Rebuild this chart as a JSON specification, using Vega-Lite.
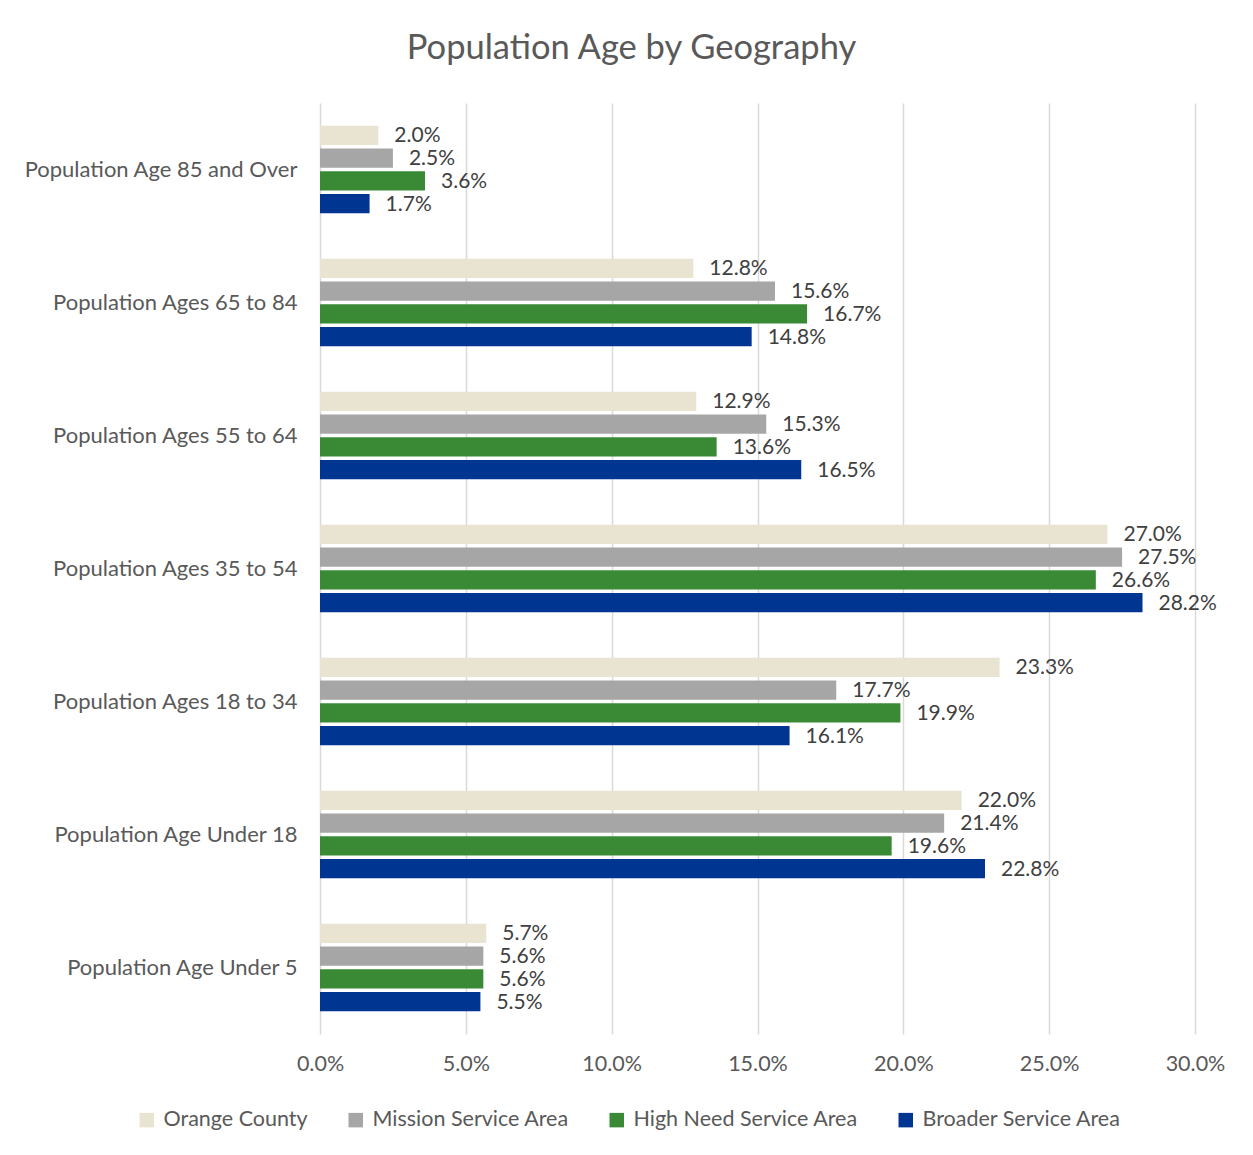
{
  "$schema": "https://vega.github.io/schema/vega-lite/v6.json",
  "width": 875,
  "height": 931,
  "autosize": {"type": "none"},
  "padding": {"left": 320, "top": 103, "right": 58, "bottom": 121},
  "background": "white",
  "config": {"font": "Lato", "view": {"stroke": null}},
  "title": {"text": "Population Age by Geography", "fontSize": 34.5, "font": "Lato", "fontWeight": "normal", "color": "#595959", "anchor": "middle", "frame": "group", "dx": -126, "offset": 37},
  "data": {"values": [
    {"age": "Population Age 85 and Over", "geo": "Orange County", "v": 0.020},
    {"age": "Population Age 85 and Over", "geo": "Mission Service Area", "v": 0.025},
    {"age": "Population Age 85 and Over", "geo": "High Need Service Area", "v": 0.036},
    {"age": "Population Age 85 and Over", "geo": "Broader Service Area", "v": 0.017},
    {"age": "Population Ages 65 to 84", "geo": "Orange County", "v": 0.128},
    {"age": "Population Ages 65 to 84", "geo": "Mission Service Area", "v": 0.156},
    {"age": "Population Ages 65 to 84", "geo": "High Need Service Area", "v": 0.167},
    {"age": "Population Ages 65 to 84", "geo": "Broader Service Area", "v": 0.148},
    {"age": "Population Ages 55 to 64", "geo": "Orange County", "v": 0.129},
    {"age": "Population Ages 55 to 64", "geo": "Mission Service Area", "v": 0.153},
    {"age": "Population Ages 55 to 64", "geo": "High Need Service Area", "v": 0.136},
    {"age": "Population Ages 55 to 64", "geo": "Broader Service Area", "v": 0.165},
    {"age": "Population Ages 35 to 54", "geo": "Orange County", "v": 0.270},
    {"age": "Population Ages 35 to 54", "geo": "Mission Service Area", "v": 0.275},
    {"age": "Population Ages 35 to 54", "geo": "High Need Service Area", "v": 0.266},
    {"age": "Population Ages 35 to 54", "geo": "Broader Service Area", "v": 0.282},
    {"age": "Population Ages 18 to 34", "geo": "Orange County", "v": 0.233},
    {"age": "Population Ages 18 to 34", "geo": "Mission Service Area", "v": 0.177},
    {"age": "Population Ages 18 to 34", "geo": "High Need Service Area", "v": 0.199},
    {"age": "Population Ages 18 to 34", "geo": "Broader Service Area", "v": 0.161},
    {"age": "Population Age Under 18", "geo": "Orange County", "v": 0.220},
    {"age": "Population Age Under 18", "geo": "Mission Service Area", "v": 0.214},
    {"age": "Population Age Under 18", "geo": "High Need Service Area", "v": 0.196},
    {"age": "Population Age Under 18", "geo": "Broader Service Area", "v": 0.228},
    {"age": "Population Age Under 5", "geo": "Orange County", "v": 0.057},
    {"age": "Population Age Under 5", "geo": "Mission Service Area", "v": 0.056},
    {"age": "Population Age Under 5", "geo": "High Need Service Area", "v": 0.056},
    {"age": "Population Age Under 5", "geo": "Broader Service Area", "v": 0.055}
  ]},
  "encoding": {
    "y": {"field": "age", "type": "nominal", "sort": null,
      "scale": {"paddingInner": 0.315, "paddingOuter": 0.1575},
      "axis": {"title": null, "domain": false, "ticks": false, "labelPadding": 23, "labelFontSize": 22, "labelColor": "#595959", "labelFont": "Lato", "labelLimit": 400}},
    "yOffset": {"field": "geo", "type": "nominal", "sort": ["Orange County", "Mission Service Area", "High Need Service Area", "Broader Service Area"],
      "scale": {"paddingInner": 0.16, "paddingOuter": 0.08}},
    "x": {"field": "v", "type": "quantitative",
      "scale": {"domain": [0, 0.30], "nice": false},
      "axis": {"title": null, "format": ".1%", "values": [0, 0.05, 0.1, 0.15, 0.2, 0.25, 0.3], "domain": false, "ticks": false, "grid": true, "gridColor": "#d9d9d9", "gridWidth": 1.5, "labelPadding": 19, "labelFontSize": 21.5, "labelColor": "#595959", "labelFont": "Lato", "labelFlush": false, "labelAlign": "center"}}
  },
  "layer": [
    {"mark": {"type": "bar"},
     "encoding": {
       "color": {"field": "geo", "type": "nominal",
         "scale": {"domain": ["Orange County", "Mission Service Area", "High Need Service Area", "Broader Service Area"], "range": ["#E9E4D2", "#A6A6A6", "#3A8A35", "#003591"]},
         "legend": {"title": null, "orient": "none", "direction": "horizontal", "legendX": -184, "legendY": 1006, "symbolType": "square", "symbolSize": 210, "symbolStrokeWidth": 0, "labelFontSize": 21.5, "labelColor": "#595959", "labelFont": "Lato", "labelLimit": 400, "columnPadding": 37, "labelOffset": 6}}
     }},
    {"mark": {"type": "text", "align": "left", "baseline": "middle", "dx": 16, "dy": 1, "fontSize": 21, "color": "#404040", "font": "Lato"},
     "encoding": {"text": {"field": "v", "type": "quantitative", "format": ".1%"}}}
  ]
}
